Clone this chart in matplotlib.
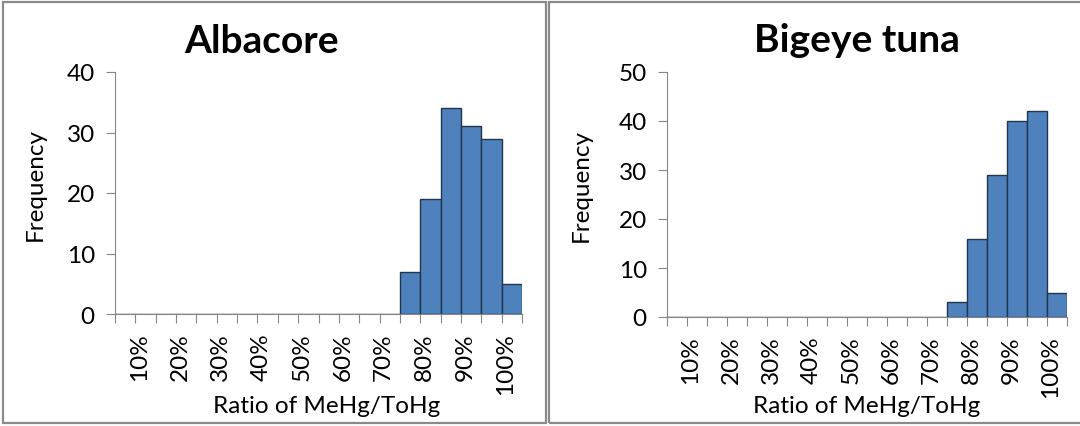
import matplotlib
matplotlib.use("Agg")
import matplotlib.pyplot as plt
from matplotlib.patches import Rectangle
from matplotlib.transforms import ScaledTranslation

plt.rcParams['font.family'] = ['Lato', 'DejaVu Sans']

# histogram bins (upper bin edge of MeHg/ToHg ratio)
bins = ['5%', '10%', '15%', '20%', '25%', '30%', '35%', '40%', '45%', '50%',
        '55%', '60%', '65%', '70%', '75%', '80%', '85%', '90%', '95%', '100%']
albacore = [0, 0, 0, 0, 0, 0, 0, 0, 0, 0, 0, 0, 0, 0, 7, 19, 34, 31, 29, 5]
bigeye = [0, 0, 0, 0, 0, 0, 0, 0, 0, 0, 0, 0, 0, 0, 3, 16, 29, 40, 42, 5]

BAR = '#4F81BD'
EDGE = '#1F3550'
AXIS = '#868686'
W, H = 1080, 427


def px_axes(fig, x0, x1, ytop, ybot):
    return fig.add_axes([x0 / W, 1 - ybot / H, (x1 - x0) / W, (ybot - ytop) / H])


def draw_panel(fig, ax, values, title, ymax, title_x, title_y, xlab_x, xlab_y, ylab_x):
    pos = list(range(1, len(bins) + 1))
    ax.bar(pos, values, width=1.0, color=BAR, edgecolor=EDGE, linewidth=1.0, zorder=3)
    ax.set_xlim(0.5, len(bins) + 0.5)
    ax.set_ylim(0, ymax)
    ax.set_yticks(range(0, ymax + 1, 10))

    # boundary ticks, labels on every other bin
    ax.set_xticks([p + 0.5 for p in [0] + pos])
    ax.set_xticklabels([])
    ax.set_xticks(pos[1::2], minor=True)
    ax.set_xticklabels(bins[1::2], minor=True, rotation=90, fontsize=17.5)
    ax.tick_params(axis='x', which='major', direction='out', length=6.5, width=0.8, color=AXIS)
    ax.tick_params(axis='x', which='minor', length=0, pad=13)
    ax.tick_params(axis='y', direction='out', length=6.5, width=0.8, color=AXIS,
                   labelsize=17.5, pad=8)
    # Excel draws the rotated labels a little left of the bin centre
    shift = ScaledTranslation(-0.06, 0, fig.dpi_scale_trans)
    for lbl in ax.get_xticklabels(minor=True):
        lbl.set_transform(lbl.get_transform() + shift)

    for s in ['top', 'right']:
        ax.spines[s].set_visible(False)
    for s in ['left', 'bottom']:
        ax.spines[s].set_color(AXIS)
        ax.spines[s].set_linewidth(0.8)

    ax.set_title(title, x=title_x, y=title_y, va='baseline', pad=0,
                 fontsize=28, fontweight='bold')
    ax.set_xlabel('Ratio of MeHg/ToHg', fontsize=17.5, va='top')
    ax.xaxis.set_label_coords(xlab_x, xlab_y)
    ax.set_ylabel('Frequency', fontsize=17.5, va='bottom')
    ax.yaxis.set_label_coords(ylab_x, 0.54)


fig = plt.figure(figsize=(W / 100, H / 100), dpi=100)

# chart frames
fig.patches.append(Rectangle((3 / W, 3 / H), 543 / W, 421 / H, transform=fig.transFigure,
                             fill=False, edgecolor='#8A8A8A', linewidth=1.6))
fig.patches.append(Rectangle((549 / W, 3 / H), 540 / W, 421 / H, transform=fig.transFigure,
                             fill=False, edgecolor='#8A8A8A', linewidth=1.6))

ax1 = px_axes(fig, 115, 522, 73, 315)
draw_panel(fig, ax1, albacore, 'Albacore', 40, 0.361, 1.083, 0.521, -0.335, -0.17)

ax2 = px_axes(fig, 667, 1067, 73, 318)
draw_panel(fig, ax2, bigeye, 'Bigeye tuna', 50, 0.475, 1.086, 0.5, -0.318, -0.187)

fig.savefig('out.png', dpi=100)
